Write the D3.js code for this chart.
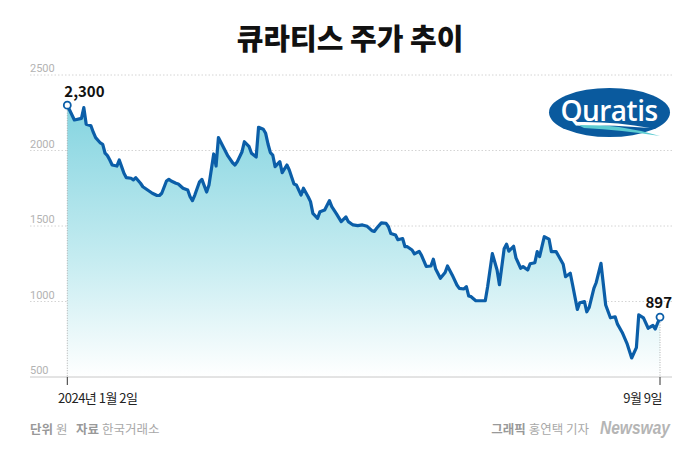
<!DOCTYPE html>
<html><head><meta charset="utf-8">
<script src="https://cdn.jsdelivr.net/npm/d3@7"></script>
<style>
html,body{margin:0;padding:0;background:#fff;}
svg{display:block;}
</style></head>
<body>
<script>
const dates = ["01-02","01-05","01-08","01-09","01-10","01-12","01-13","01-14","01-16","01-17","01-18","01-19","01-20","01-21","01-23","01-24","01-25","01-26","01-27","01-29","01-30","01-31",
"02-02","02-03","02-05","02-07","02-09","02-10","02-11","02-13","02-14","02-15","02-17","02-18","02-20","02-22","02-23","02-24","02-25","02-27","02-28",
"03-01","03-02","03-04","03-05","03-06","03-08","03-10","03-12","03-13","03-14","03-16","03-17","03-19","03-20","03-22","03-23","03-25","03-26","03-27","03-28","03-29","03-30",
"04-01","04-02","04-04","04-05","04-07","04-08","04-10","04-11","04-13","04-14","04-15","04-17","04-18","04-20","04-22","04-23","04-25","04-27","04-29","04-30",
"05-02","05-04","05-06","05-08","05-10","05-11","05-12","05-14","05-16","05-17","05-18","05-20","05-21","05-23","05-24","05-25","05-27","05-28","05-30","05-31",
"06-02","06-04","06-05","06-06","06-08","06-10","06-11","06-13","06-15","06-16","06-18","06-19","06-20","06-21","06-23","06-27","06-28","06-30",
"07-02","07-03","07-05","07-06","07-07","07-09","07-10","07-12","07-13","07-15","07-16","07-18","07-19","07-20","07-22","07-24","07-25","07-27","07-28","07-30","07-31",
"08-02","08-03","08-05","08-06","08-08","08-09","08-10","08-12","08-13","08-15","08-17","08-19","08-21","08-22","08-24","08-26","08-28","08-30","08-31",
"09-02","09-04","09-06","09-07","09-09"];
const prices = [2300,2202,2213,2284,2174,2164,2121,2085,2050,2041,1982,1966,1937,1904,1897,1937,1893,1849,1820,1816,1805,1820,
1783,1760,1738,1717,1702,1702,1717,1798,1809,1798,1783,1778,1750,1738,1694,1668,1705,1793,1809,
1725,1772,1977,1897,2086,2025,1964,1919,1904,1926,1992,2058,2025,1982,1957,2154,2141,2114,2043,1986,1970,1893,
1926,1853,1904,1871,1778,1772,1705,1750,1694,1661,1584,1551,1595,1606,1668,1628,1580,1529,1560,1529,
1507,1502,1507,1498,1469,1464,1485,1521,1518,1495,1450,1440,1409,1417,1363,1363,1341,1315,1332,1306,
1232,1235,1280,1215,1154,1192,1235,1176,1109,1087,1083,1098,1036,1032,1005,1005,1098,1317,
1209,1111,1349,1380,1333,1366,1289,1220,1231,1209,1250,1257,1330,1297,1429,1413,1330,1330,1303,1247,1164,
1187,1109,948,992,999,932,960,1087,1126,1253,977,892,899,850,795,723,626,695,911,
892,823,841,818,897];
const yTicks = [500,1000,1500,2000,2500];
const title = "큐라티스 주가 추이";
const startLabel = "2024년 1월 2일";
const endLabel = "9월 9일";

const W = 700, H = 450;
const parse = d3.timeParse("%Y-%m-%d");
const data = dates.map((d,i)=>({date: parse("2024-"+d), v: prices[i]}));

const x = d3.scaleTime().domain(d3.extent(data, d=>d.date)).range([67.3, 660]);
const y = d3.scaleLinear().domain([500, 2500]).range([377, 75]);

const svg = d3.select("body").append("svg").attr("width", W).attr("height", H);
const defs = svg.append("defs");
const grad = defs.append("linearGradient").attr("id","areaGrad")
  .attr("gradientUnits","userSpaceOnUse").attr("x1",0).attr("x2",0)
  .attr("y1", y(2300)).attr("y2", y(500));
grad.append("stop").attr("offset","0%").attr("stop-color","#84d4e0");
grad.append("stop").attr("offset","55%").attr("stop-color","#c3ebf0");
grad.append("stop").attr("offset","100%").attr("stop-color","#ffffff");

// title
svg.append("text").attr("x", 350).attr("y", 50).attr("text-anchor","middle")
  .attr("font-family","'Noto Sans CJK KR', sans-serif").attr("font-weight",900)
  .attr("font-size", 29).attr("fill","#111").text(title);

// gridlines
const grid = svg.append("g");
grid.selectAll("line").data(yTicks.filter(t=>t>500)).join("line")
  .attr("x1",30).attr("x2",672).attr("y1",d=>y(d)).attr("y2",d=>y(d))
  .attr("stroke","#d4d4d4").attr("stroke-width",1).attr("stroke-dasharray","1.5,2");
grid.selectAll("text").data(yTicks).join("text")
  .attr("x",30).attr("y",d=>y(d)-3)
  .attr("font-family","Roboto, sans-serif").attr("font-size",11)
  .attr("fill","#b3b3b3").text(d=>d);

// area
const area = d3.area().x(d=>x(d.date)).y0(y(500)).y1(d=>y(d.v)).curve(d3.curveLinear);
svg.append("path").datum(data).attr("d", area).attr("fill","url(#areaGrad)");

// base axis
svg.append("line").attr("x1",30).attr("x2",672).attr("y1",y(500)).attr("y2",y(500))
  .attr("stroke","#c8c8c8").attr("stroke-width",1);

const first = data[0], last = data[data.length-1];
// vertical dotted guides
[first,last].forEach(d=>{
  svg.append("line").attr("x1",x(d.date)).attr("x2",x(d.date))
    .attr("y1",y(d.v)).attr("y2",y(500))
    .attr("stroke","#9a9a9a").attr("stroke-width",0.8).attr("stroke-dasharray","1,1.5");
  svg.append("line").attr("x1",x(d.date)).attr("x2",x(d.date))
    .attr("y1",y(500)).attr("y2",y(500)+8)
    .attr("stroke","#333").attr("stroke-width",1);
});

// line
const line = d3.line().x(d=>x(d.date)).y(d=>y(d.v));
svg.append("path").datum(data).attr("d", line).attr("fill","none")
  .attr("stroke","#0b5ea8").attr("stroke-width",3.2).attr("stroke-linejoin","round").attr("stroke-linecap","round");

// markers
[first,last].forEach(d=>{
  svg.append("circle").attr("cx",x(d.date)).attr("cy",y(d.v)).attr("r",3.5)
    .attr("fill","#fff").attr("stroke","#0b5ea8").attr("stroke-width",1.8);
});
const fmt = d3.format(",");
svg.append("text").attr("x", x(first.date)-3).attr("y", y(first.v)-8)
  .attr("font-family","'Noto Sans CJK KR', sans-serif").attr("font-weight",700)
  .attr("font-size",15).attr("fill","#111").text(fmt(first.v));
svg.append("text").attr("x", 672).attr("y", y(last.v)-9).attr("text-anchor","end")
  .attr("font-family","'Noto Sans CJK KR', sans-serif").attr("font-weight",700)
  .attr("font-size",15).attr("fill","#111").text(fmt(last.v));

// x labels
svg.append("text").attr("x", 58).attr("y", 403)
  .attr("font-family","'Noto Sans CJK KR', sans-serif").attr("font-size",13)
  .attr("fill","#222").attr("letter-spacing",-0.5).text(startLabel);
svg.append("text").attr("x", 662).attr("y", 403).attr("text-anchor","end")
  .attr("font-family","'Noto Sans CJK KR', sans-serif").attr("font-size",13)
  .attr("fill","#222").attr("letter-spacing",-0.5).text(endLabel);

// logo
const logo = svg.append("g");
logo.append("ellipse").attr("cx",609.5).attr("cy",112.5).attr("rx",60.5).attr("ry",24.5).attr("fill","#0a5a9e");
logo.append("path").attr("d","M 576 124 Q 620 124 660 136 Q 622 130 584 128 Z").attr("fill","#5ccbd1");
logo.append("path").attr("d","M 574 122 Q 615 121 650 128 Q 615 125 580 125 Z").attr("fill","#ffffff");
logo.append("text").attr("x",609).attr("y",121).attr("text-anchor","middle")
  .attr("font-family","'Open Sans', sans-serif").attr("font-weight",600).attr("font-size",28)
  .attr("fill","#fff").attr("letter-spacing",-0.5).text("Quratis");

// footer
const foot = svg.append("text").attr("x",30).attr("y",434)
  .attr("font-family","'Noto Sans CJK KR', sans-serif").attr("font-size",12.5).attr("fill","#a8a8a8");
foot.append("tspan").attr("font-weight",700).attr("fill","#999").text("단위");
foot.append("tspan").attr("dx",3).text("원");
foot.append("tspan").attr("x",76).attr("font-weight",700).attr("fill","#999").text("자료");
foot.append("tspan").attr("dx",3).text("한국거래소");

const credit = svg.append("text").attr("x",589).attr("y",434).attr("text-anchor","end")
  .attr("font-family","'Noto Sans CJK KR', sans-serif").attr("font-size",12.5).attr("fill","#a8a8a8");
credit.append("tspan").attr("font-weight",700).attr("fill","#999").text("그래픽");
credit.append("tspan").attr("dx",3).text("홍연택 기자");
svg.append("text").attr("x",600).attr("y",434)
  .attr("font-family","'Liberation Sans', sans-serif").attr("font-weight",700).attr("font-style","italic")
  .attr("font-size",18).attr("fill","#b5b5b5")
  .attr("textLength",70).attr("lengthAdjust","spacingAndGlyphs").text("Newsway");
</script>
</body></html>
